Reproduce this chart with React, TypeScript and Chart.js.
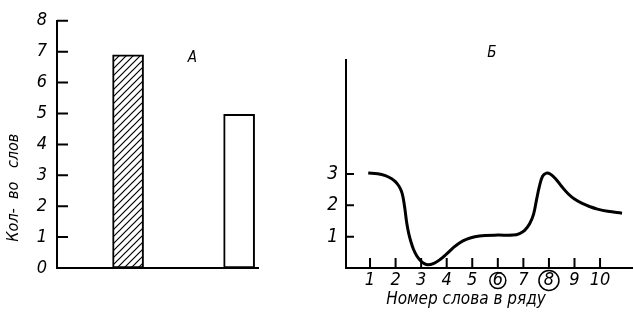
import React, { useEffect, useRef } from "react";
import { Chart, registerables } from "chart.js";

Chart.register(...registerables);

const FONT = "'DejaVu Sans Condensed', 'Liberation Sans Narrow', 'DejaVu Sans', sans-serif";

// ---- Panel А: bar chart ----
const barPositions = [1, 2];
const barValues = [6.9, 4.97];
const barHatched = [true, false];
const leftYTicks = [1, 2, 3, 4, 5, 6, 7, 8];
const leftYTitle = "Кол-  во   слов";
const panelALabel = "А";

// ---- Panel Б: curve ----
const wordPositions = [
  0.93, 1.3, 1.6, 1.85, 2.0, 2.1, 2.18, 2.25, 2.31, 2.37, 2.44, 2.52, 2.6, 2.7, 2.82, 2.96, 3.1,
  3.27, 3.5, 3.74, 4.0, 4.25, 4.5, 4.79, 5.1, 5.5, 6.0, 6.6, 6.85, 7.05, 7.25, 7.4, 7.52,
  7.62, 7.75, 7.9, 8.05, 8.25, 8.5, 8.75, 9.0, 9.3, 9.6, 9.9, 10.3, 10.86,
];
const wordCounts = [
  3.03, 3.01, 2.95, 2.85, 2.75, 2.65, 2.54, 2.4, 2.18, 1.85, 1.42, 1.08, 0.84, 0.6, 0.4, 0.25, 0.15,
  0.1, 0.15, 0.27, 0.45, 0.64, 0.8, 0.92, 1.0, 1.04, 1.05, 1.05, 1.1, 1.2, 1.42, 1.72, 2.2,
  2.58, 2.93, 3.03, 3.0, 2.86, 2.6, 2.37, 2.2, 2.06, 1.96, 1.88, 1.81, 1.75,
];
const rightXTicks = [1, 2, 3, 4, 5, 6, 7, 8, 9, 10];
const circledTicks = [6, 8];
const rightYTicks = [1, 2, 3];
const rightXTitle = "Номер слова в ряду";
const panelBLabel = "Б";

function makeHatch(): CanvasPattern | string {
  const c = document.createElement("canvas");
  const s = 7;
  c.width = s;
  c.height = s;
  const g = c.getContext("2d");
  if (!g) return "#fff";
  g.fillStyle = "#fff";
  g.fillRect(0, 0, s, s);
  g.strokeStyle = "#000";
  g.lineWidth = 1.2;
  g.beginPath();
  g.moveTo(-1, s + 1);
  g.lineTo(s + 1, -1);
  g.moveTo(-1, 1);
  g.lineTo(1, -1);
  g.moveTo(s - 1, s + 1);
  g.lineTo(s + 1, s - 1);
  g.stroke();
  const p = g.createPattern(c, "repeat");
  return p || "#fff";
}

const innerTicks = {
  id: "innerTicks",
  beforeDatasetsDraw(chart: any, _args: any, opts: any) {
    const ctx = chart.ctx;
    const { x, y } = chart.scales;
    ctx.save();
    ctx.strokeStyle = "#000";
    ctx.lineWidth = 2;
    ctx.beginPath();
    (opts.xValues || []).forEach((v: number) => {
      const px = x.getPixelForValue(v);
      ctx.moveTo(px, x.top);
      ctx.lineTo(px, x.top - opts.xLen);
    });
    (opts.yValues || []).forEach((v: number) => {
      const py = y.getPixelForValue(v);
      ctx.moveTo(y.right, py);
      ctx.lineTo(y.right + opts.yLen, py);
    });
    ctx.stroke();
    ctx.restore();
  },
};

const tickFont = (size: number) => ({ family: FONT, size, style: "italic" as const, weight: "normal" as const, lineHeight: 1.2 });

export default function App() {
  const leftRef = useRef<HTMLCanvasElement>(null);
  const rightRef = useRef<HTMLCanvasElement>(null);

  useEffect(() => {
    const hatch = makeHatch();

    const leftText = {
      id: "leftText",
      afterDraw(chart: any) {
        const ctx = chart.ctx;
        const { x, y } = chart.scales;
        ctx.save();
        ctx.fillStyle = "#000";
        ctx.font = `italic 15px ${FONT}`;
        ctx.textAlign = "center";
        ctx.textBaseline = "middle";
        ctx.fillText(panelALabel, x.getPixelForValue(1.58), y.getPixelForValue(6.8));
        ctx.translate(y.left + 14, y.getPixelForValue(2.6));
        ctx.rotate(-Math.PI / 2);
        ctx.font = `italic 16px ${FONT}`;
        ctx.fillText(leftYTitle, 0, 0);
        ctx.restore();
      },
    };

    const rightText = {
      id: "rightText",
      afterDraw(chart: any) {
        const ctx = chart.ctx;
        const { x, y } = chart.scales;
        ctx.save();
        ctx.fillStyle = "#000";
        ctx.strokeStyle = "#000";
        ctx.font = `italic 15px ${FONT}`;
        ctx.textAlign = "center";
        ctx.textBaseline = "middle";
        ctx.fillText(panelBLabel, x.getPixelForValue(5.77), y.getPixelForValue(6.86));
        ctx.lineWidth = 1.5;
        circledTicks.forEach((v, i) => {
          ctx.beginPath();
          ctx.arc(x.getPixelForValue(v), x.top + 12.5, i === 0 ? 8 : 10, 0, Math.PI * 2);
          ctx.stroke();
        });
        ctx.restore();
      },
    };

    const left = new Chart(leftRef.current!, {
      type: "bar",
      data: {
        datasets: [
          {
            data: barPositions.map((px, i) => ({ x: px, y: barValues[i] })),
            backgroundColor: barHatched.map((h) => (h ? hatch : "#fff")) as any,
            borderColor: "#000",
            borderWidth: 2,
            borderSkipped: false,
            barThickness: 31,
          },
        ],
      },
      options: {
        responsive: false,
        animation: false,
        layout: { padding: { left: 0, top: 15, right: 42, bottom: 50 } },
        plugins: {
          legend: { display: false },
          tooltip: { enabled: false },
          innerTicks: { yValues: leftYTicks, yLen: 11, xValues: [], xLen: 0 },
        } as any,
        scales: {
          x: {
            type: "linear",
            offset: false,
            min: 0.36,
            max: 2.17,
            grid: { display: false, drawTicks: false, offset: false },
            ticks: { display: false },
            border: { color: "#000", width: 2 },
            afterFit: (s: any) => {
              s.height = 0;
            },
          },
          y: {
            min: 0,
            max: 8,
            ticks: { stepSize: 1, color: "#000", padding: 10, font: tickFont(18) },
            grid: { display: false, drawTicks: false },
            border: { color: "#000", width: 2 },
            afterFit: (s: any) => {
              s.width = 57;
            },
          },
        },
      },
      plugins: [innerTicks, leftText],
    });

    const right = new Chart(rightRef.current!, {
      type: "line",
      data: {
        datasets: [
          {
            data: wordPositions.map((px, i) => ({ x: px, y: wordCounts[i] })),
            borderColor: "#000",
            borderWidth: 3,
            pointRadius: 0,
            tension: 0.4,
            fill: false,
          },
        ],
      },
      options: {
        responsive: false,
        animation: false,
        layout: { padding: { left: 0, top: 60, right: 2, bottom: 8 } },
        plugins: {
          legend: { display: false },
          tooltip: { enabled: false },
          title: {
            display: true,
            position: "bottom",
            text: rightXTitle,
            color: "#000",
            padding: 0,
            font: tickFont(17),
          },
          innerTicks: { xValues: rightXTicks, xLen: 10, yValues: rightYTicks, yLen: 8 },
        } as any,
        scales: {
          x: {
            type: "linear",
            min: 0.06,
            max: 11.25,
            afterBuildTicks: (s: any) => {
              s.ticks = rightXTicks.map((v) => ({ value: v }));
            },
            ticks: { color: "#000", padding: 2, maxRotation: 0, autoSkip: false, font: tickFont(18) },
            grid: { display: false, drawTicks: false },
            border: { color: "#000", width: 2 },
            afterFit: (s: any) => {
              s.height = 21.6;
            },
          },
          y: {
            min: 0,
            max: 6.64,
            afterBuildTicks: (s: any) => {
              s.ticks = rightYTicks.map((v) => ({ value: v }));
            },
            ticks: { color: "#000", padding: 8, font: tickFont(19) },
            grid: { display: false, drawTicks: false },
            border: { color: "#000", width: 2 },
            afterFit: (s: any) => {
              s.width = 46;
            },
          },
        },
      },
      plugins: [innerTicks, rightText],
    });

    return () => {
      left.destroy();
      right.destroy();
    };
  }, []);

  return (
    <div style={{ position: "fixed", left: 0, top: 0, width: 634, height: 318, background: "#fff" }}>
      <canvas ref={leftRef} width={300} height={318} style={{ position: "absolute", left: 0, top: 0, display: "block" }} />
      <canvas ref={rightRef} width={334} height={318} style={{ position: "absolute", left: 300, top: 0, display: "block" }} />
    </div>
  );
}
